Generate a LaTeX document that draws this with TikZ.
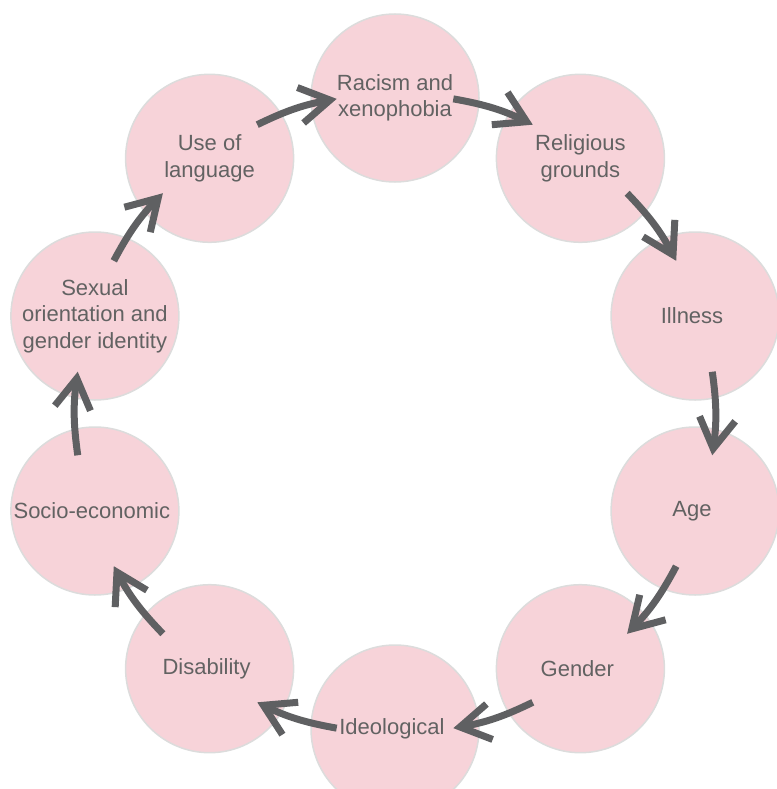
\documentclass[tikz,border=0pt]{standalone}
\usepackage{fontspec}
\setmainfont{Liberation Sans}
\usetikzlibrary{arrows.meta,calc}
\definecolor{bubble}{HTML}{F7D3D9}
\definecolor{rim}{HTML}{DCDCDC}
\definecolor{ink}{HTML}{626262}
\definecolor{flowgray}{HTML}{5F6062}
\tikzset{
  cause/.style={draw=rim,line width=1.5pt,fill=bubble,circle,minimum size=168pt,inner sep=0pt,
    align=center,text=ink,font=\fontsize{22pt}{26.5pt}\selectfont},
  flow/.style={draw=flowgray,line width=7pt,-{Straight Barb[length=30pt,width=36pt]}}
}
\begin{document}
\begin{tikzpicture}[x=1pt,y=1pt]
                \useasboundingbox (0,-789) rectangle (776,0);
                \coordinate (O) at (395,-413.5);

                \node[cause] (ra) at (395,-98) { Racism and\\xenophobia };
                \node[cause] (re) at (580.4,-158.3) { Religious\\grounds };
                \node[cause] (il) at (695.1,-316) { Illness };
                \node[cause] (ag) at (695.1,-511) { Age };
                \node[cause] (ge) at (580.4,-668.7) { Gender };
                \node[cause] (id) at (395,-729) { Ideological };
                \node[cause] (di) at (209.6,-668.7) { Disability };
                \node[cause] (so) at (94.9,-511) { Socio-economic };
                \node[cause] (se) at (94.9,-316) { Sexual\\orientation and\\gender identity };
                \node[cause] (us) at (209.6,-158.3) { Use of\\language };

                \foreach \i in {0,...,9} {
                    \coordinate (s\i) at ($(O)+({90-36*\i-10.5}:320)$);
                    \coordinate (t\i) at ($(O)+({90-36*\i-25.5}:320)$);
                    \draw[flow] (s\i) to[bend left=8] (t\i);
                }
            \end{tikzpicture}
\end{document}
